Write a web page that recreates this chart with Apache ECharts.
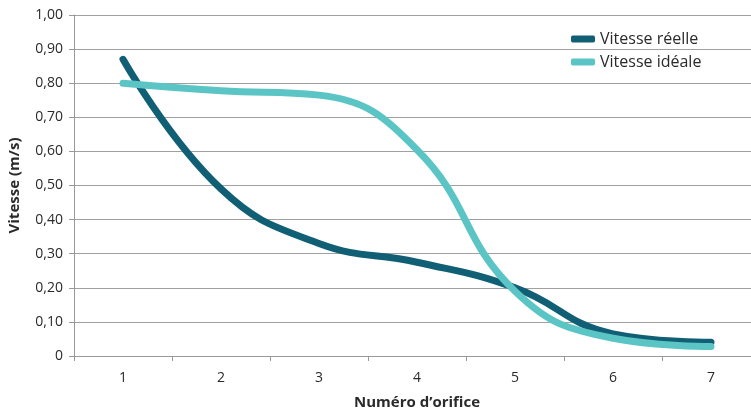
<!DOCTYPE html>
<html><head><meta charset="utf-8">
<script src="https://cdn.jsdelivr.net/npm/echarts@6/dist/echarts.min.js"></script>
<style>html,body{margin:0;padding:0;background:#fff}#c{width:751px;height:413px}</style>
</head><body><div id="c"></div>
<script>
const categories = ['1','2','3','4','5','6','7'];
const vitesseReelle = [0.87, 0.49, 0.33, 0.275, 0.20, 0.065, 0.04];
const vitesseIdeale = [0.80, 0.778, 0.765, 0.605, 0.19, 0.052, 0.028];
const yTickLabels = ['0','0,10','0,20','0,30','0,40','0,50','0,60','0,70','0,80','0,90','1,00'];
const seriesNames = ['Vitesse réelle','Vitesse idéale'];
const FONT = 'Open Sans';
const chart = echarts.init(document.getElementById('c'), null, {renderer:'canvas'});
chart.setOption({
  animation:false,
  textStyle:{fontFamily:FONT},
  grid:{left:74, width:686, top:15, height:341, containLabel:false, outerBoundsMode:'none'},
  legend:{
    orient:'vertical', left:566, top:26, itemWidth:24, itemHeight:7, itemGap:7,
    icon:'roundRect',
    textStyle:{fontFamily:FONT, fontSize:16, color:'#2a2a2a'},
    data:seriesNames
  },
  xAxis:{
    type:'category', data:categories, boundaryGap:true,
    name:'Numéro d’orifice', nameLocation:'middle', nameGap:39,
    nameTextStyle:{fontFamily:FONT, fontSize:15, fontWeight:'bold', color:'#2a2a2a'},
    axisLine:{lineStyle:{color:'#999', width:1}},
    axisTick:{show:true, length:5, alignWithLabel:false, lineStyle:{color:'#999'}},
    axisLabel:{fontFamily:FONT, fontSize:14, color:'#2a2a2a', margin:15},
    splitLine:{show:false}
  },
  yAxis:{
    type:'value', min:0, max:1, interval:0.1,
    name:'Vitesse (m/s)', nameLocation:'middle', nameGap:52,
    nameTextStyle:{fontFamily:FONT, fontSize:15, fontWeight:'bold', color:'#2a2a2a'},
    axisLine:{show:true, lineStyle:{color:'#999', width:1}},
    axisTick:{show:true, length:5, lineStyle:{color:'#999'}},
    axisLabel:{fontFamily:FONT, fontSize:14, color:'#2a2a2a', margin:11,
      formatter:(v)=>yTickLabels[Math.round(v*10)]},
    splitLine:{show:true, lineStyle:{color:'#a0a0a0', width:1}}
  },
  series:[
    {name:seriesNames[0], type:'line', data:vitesseReelle, smooth:0.45, showSymbol:false, symbol:'none',
     color:'#105f75', lineStyle:{width:7, color:'#105f75', cap:'round', join:'round'}},
    {name:seriesNames[1], type:'line', data:vitesseIdeale, smooth:0.45, showSymbol:false, symbol:'none',
     color:'#5bc5c5', lineStyle:{width:7, color:'#5bc5c5', cap:'round', join:'round'}}
  ]
});
</script></body></html>
